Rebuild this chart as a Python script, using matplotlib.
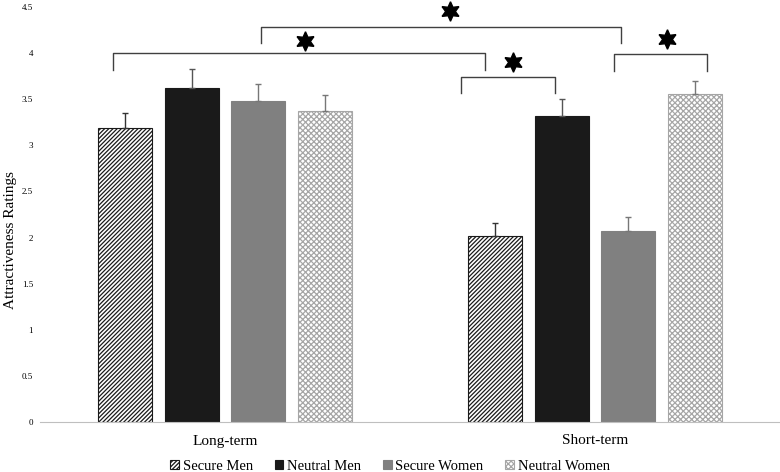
import matplotlib
matplotlib.use("Agg")
import matplotlib.pyplot as plt
import numpy as np

plt.rcParams['font.family'] = ['Liberation Serif', 'DejaVu Serif']
plt.rcParams['hatch.linewidth'] = 0.9

categories = ["Long-term", "Short-term"]
series = ["Secure Men", "Neutral Men", "Secure Women", "Neutral Women"]
secure_men = [3.19, 2.02]
neutral_men = [3.62, 3.32]
secure_women = [3.48, 2.07]
neutral_women = [3.37, 3.56]
err_secure_men = [0.16, 0.14]
err_neutral_men = [0.21, 0.18]
err_secure_women = [0.19, 0.15]
err_neutral_women = [0.18, 0.14]
yticks = [0, 0.5, 1, 1.5, 2, 2.5, 3, 3.5, 4, 4.5]
ytick_labels = ["0", "0.5", "1", "1.5", "2", "2.5", "3", "3.5", "4", "4.5"]

values = [secure_men, neutral_men, secure_women, neutral_women]
errors = [err_secure_men, err_neutral_men, err_secure_women, err_neutral_women]
styles = [
    dict(facecolor="white", edgecolor="#1a1a1a", hatch="////////", linewidth=0.8),
    dict(facecolor="#1a1a1a", edgecolor="#1a1a1a", linewidth=0.8),
    dict(facecolor="#808080", edgecolor="#808080", linewidth=0.8),
    dict(facecolor="white", edgecolor="#a6a6a6", hatch="xxxxxx", linewidth=0.8),
]
errcolors = ["#333333", "#555555", "#777777", "#777777"]

fig = plt.figure(figsize=(7.8, 4.72), dpi=100)
ax = fig.add_axes([40/780, 1 - 422/472, 740/780, 415/472])

x = np.arange(len(categories))
width = 0.146
step = 0.181
for i, (vals, errs, st) in enumerate(zip(values, errors, styles)):
    pos = x + (i - 1.5) * step
    ax.bar(pos, vals, width, label=series[i], **st)
    ax.errorbar(pos, vals, yerr=[np.zeros(len(errs)), errs], fmt="none",
                ecolor=errcolors[i], elinewidth=1.0, capsize=2.5, capthick=1.0)

ax.set_xlim(-0.5, 1.5)
ax.set_ylim(0, 4.5)
ax.set_yticks(yticks)
ax.set_yticklabels(ytick_labels, fontsize=6.5)
ax.set_xticks(x)
ax.set_xticklabels(categories, fontsize=11)
ax.tick_params(length=0)
ax.tick_params(axis='y', pad=5)
ax.tick_params(axis='x', pad=9)
for s in ["top", "right", "left"]:
    ax.spines[s].set_visible(False)
ax.spines["bottom"].set_color("#bfbfbf")
ax.set_ylabel("Attractiveness Ratings", fontsize=11)
ax.yaxis.set_label_coords(-23/740, 182/415)

# significance brackets: (x_left, x_right, top_y, leg_bottom_y, star_x, star_y) in pixels
def px2x(p):
    return -0.5 + (p - 40) / 370.0
def px2y(p):
    return (422 - p) / (415 / 4.5)

brackets = [
    (113, 485, 53, 70, 305, 41),
    (261, 621, 27, 43, 450, 11),
    (461, 555, 77, 93, 513, 62),
    (614, 707, 54, 71, 667, 39),
]
for xl, xr, yt, yb, sx, sy in brackets:
    ax.plot([px2x(xl), px2x(xl), px2x(xr), px2x(xr)],
            [px2y(yb), px2y(yt), px2y(yt), px2y(yb)],
            color="#404040", lw=1.0, clip_on=False)
    ax.plot(px2x(sx), px2y(sy), marker=(6, 1, 0), markersize=14,
            color="black", clip_on=False)

leg = ax.legend(loc="center", bbox_to_anchor=(350/740, -44/415), ncol=4,
                frameon=False, fontsize=10.5, handlelength=0.6, handleheight=0.6,
                handletextpad=0.25, columnspacing=1.5, borderpad=0.1)

fig.savefig("out.png", dpi=100)
